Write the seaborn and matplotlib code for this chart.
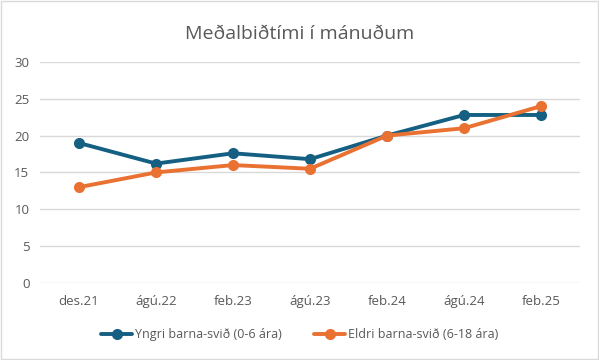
import matplotlib
matplotlib.use("Agg")
import matplotlib.pyplot as plt
import pandas as pd
import seaborn as sns

dates = ["des.21", "ágú.22", "feb.23", "ágú.23", "feb.24", "ágú.24", "feb.25"]
yngri = [19.0, 16.2, 17.6, 16.8, 20.0, 22.8, 22.8]
eldri = [13.0, 15.0, 16.0, 15.5, 20.0, 21.0, 24.0]
series = ["Yngri barna-svið (0-6 ára)", "Eldri barna-svið (6-18 ára)"]
colors = ["#156082", "#E97132"]

df = pd.DataFrame({
    "dags": dates * 2,
    "gildi": yngri + eldri,
    "hopur": [series[0]] * len(dates) + [series[1]] * len(dates),
})

sns.set_style("white")
plt.rcParams["font.family"] = ["Open Sans", "DejaVu Sans"]

fig = plt.figure(figsize=(5.99, 3.6), dpi=100)
ax = fig.add_axes([0.0676, 0.214, 0.90, 0.614])

sns.lineplot(data=df, x="dags", y="gildi", hue="hopur", palette=colors,
             marker="o", markersize=8, markeredgewidth=0, linewidth=2.8,
             sort=False, ax=ax)

ax.set_xlim(-0.5, len(dates) - 0.5)
ax.set_ylim(0, 30)
ax.set_yticks(range(0, 31, 5))
ax.yaxis.grid(True, color="#d9d9d9", linewidth=1)
ax.set_axisbelow(True)
for s in ax.spines.values():
    s.set_visible(False)
ax.tick_params(axis="both", length=0, colors="#595959", labelsize=9.5)
ax.tick_params(axis="x", pad=9)
ax.tick_params(axis="y", pad=8)
ax.set_xlabel("")
ax.set_ylabel("")

fig.suptitle("Meðalbiðtími í mánuðum", y=0.93, fontsize=14, color="#595959")

ax.legend_.remove()
handles, labels = ax.get_legend_handles_labels()
fig.legend(handles, labels, loc="center", bbox_to_anchor=(0.5, 0.07), ncol=2,
           frameon=False, fontsize=9, labelcolor="#595959",
           handlelength=2.5, handletextpad=0.2, columnspacing=2.6)

border = plt.Rectangle((0.002, 0.003), 0.996, 0.994, transform=fig.transFigure,
                       fill=False, edgecolor="#d9d9d9", linewidth=1)
fig.patches.append(border)

fig.savefig("out.png", dpi=100)
